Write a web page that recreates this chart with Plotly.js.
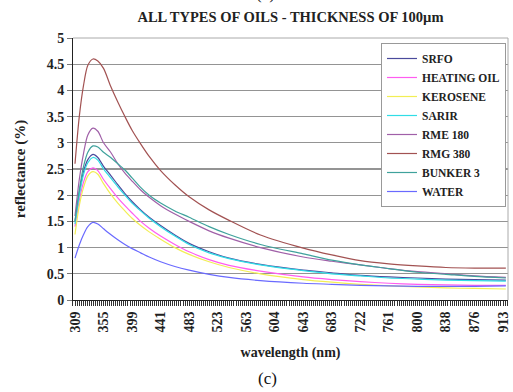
<!DOCTYPE html>
<html>
<head>
<meta charset="utf-8">
<script src="https://cdn.plot.ly/plotly-3.0.1.min.js"></script>
<style>html,body{margin:0;padding:0;background:#fff;}#chart{width:513px;height:392px;}</style>
</head>
<body>
<div id="chart"></div>
<script>
// Wavelength tick labels (nm), one per labelled category position
const wavelengthLabels = [309, 355, 399, 441, 483, 523, 563, 604, 643, 683, 722, 761, 800, 838, 876, 913];
// Sample positions along the category axis (in label-interval units)
const samplePos = [0, 0.15, 0.3, 0.45, 0.63, 0.8, 1.0, 1.25, 1.5, 1.75, 2.0, 2.3, 2.6, 3.0, 3.5, 4.0, 4.7, 5.4, 6.5, 8, 9, 10, 11, 12, 13, 14, 15.1];

const seriesNames = ["SRFO", "HEATING OIL", "KEROSENE", "SARIR", "RME 180", "RMG 380", "BUNKER 3", "WATER"];
const seriesColors = ["#4a4a9c", "#ff5cf0", "#f2ee55", "#30dde6", "#a060a8", "#a25252", "#3fa29c", "#6a6aff"];

const srfo    = [1.5, 2.05, 2.45, 2.68, 2.78, 2.72, 2.55, 2.38, 2.2, 2.03, 1.88, 1.72, 1.58, 1.42, 1.24, 1.08, 0.92, 0.8, 0.68, 0.57, 0.52, 0.47, 0.44, 0.42, 0.4, 0.39, 0.38];
const heating = [1.4, 1.9, 2.25, 2.45, 2.52, 2.47, 2.3, 2.12, 1.95, 1.8, 1.66, 1.5, 1.37, 1.22, 1.06, 0.92, 0.77, 0.66, 0.55, 0.44, 0.39, 0.35, 0.32, 0.3, 0.29, 0.28, 0.28];
const kerosene= [1.25, 1.8, 2.15, 2.37, 2.45, 2.4, 2.22, 2.02, 1.85, 1.7, 1.56, 1.42, 1.3, 1.16, 1.0, 0.87, 0.73, 0.62, 0.5, 0.39, 0.34, 0.3, 0.27, 0.25, 0.23, 0.22, 0.21];
const sarir   = [1.45, 2.0, 2.4, 2.62, 2.72, 2.67, 2.5, 2.33, 2.16, 2.0, 1.85, 1.7, 1.56, 1.4, 1.22, 1.06, 0.9, 0.79, 0.67, 0.56, 0.5, 0.46, 0.42, 0.4, 0.38, 0.37, 0.36];
const rme180  = [1.6, 2.3, 2.8, 3.15, 3.28, 3.22, 3.0, 2.82, 2.6, 2.42, 2.27, 2.1, 1.96, 1.8, 1.64, 1.5, 1.32, 1.18, 1.0, 0.82, 0.74, 0.67, 0.6, 0.54, 0.5, 0.46, 0.43];
const rmg380  = [2.6, 3.5, 4.1, 4.48, 4.6, 4.56, 4.42, 4.08, 3.78, 3.5, 3.24, 2.98, 2.74, 2.47, 2.2, 1.97, 1.72, 1.52, 1.24, 0.99, 0.86, 0.75, 0.69, 0.65, 0.62, 0.61, 0.61];
const bunker3 = [1.5, 2.1, 2.55, 2.82, 2.94, 2.92, 2.82, 2.72, 2.6, 2.48, 2.33, 2.15, 2.0, 1.85, 1.7, 1.58, 1.4, 1.25, 1.06, 0.88, 0.76, 0.67, 0.6, 0.53, 0.49, 0.45, 0.42];
const water   = [0.8, 1.05, 1.25, 1.4, 1.48, 1.45, 1.36, 1.25, 1.15, 1.06, 0.98, 0.9, 0.82, 0.73, 0.64, 0.57, 0.49, 0.43, 0.37, 0.32, 0.3, 0.28, 0.27, 0.26, 0.26, 0.26, 0.27];

const allSeries = [srfo, heating, kerosene, sarir, rme180, rmg380, bunker3, water];
const yTicks = [0, 0.5, 1, 1.5, 2, 2.5, 3, 3.5, 4, 4.5, 5];

const serif = "Liberation Serif";

const traces = allSeries.map((vals, i) => ({
  type: 'scatter', mode: 'lines',
  x: samplePos, y: vals, name: '<b>' + seriesNames[i] + '</b>',
  line: {color: seriesColors[i], width: 1.2, shape: 'spline', smoothing: 0.8}
}));

const layout = {
  width: 513, height: 392,
  margin: {l: 73, r: 5, t: 38, b: 92},
  paper_bgcolor: '#fff', plot_bgcolor: '#fff',
  font: {family: serif, color: '#222', size: 12},
  title: {text: '<b>ALL TYPES OF OILS - THICKNESS OF 100µm</b>', font: {family: serif, size: 14.5, color: '#222'},
          x: 0.5, xref: 'paper', y: 1 - 17/392, yanchor: 'middle'},
  xaxis: {
    range: [-0.07, 15.175], tickmode: 'array',
    tickvals: wavelengthLabels.map((_, i) => i), ticktext: wavelengthLabels.map(v => '<b>' + v + '</b>'),
    tickangle: -90, tickfont: {family: serif, size: 14, color: '#222'},
    ticks: 'outside', ticklen: 5, tickcolor: '#333', tickwidth: 1,
    minor: {dtick: 1/14, tick0: 0, ticks: 'outside', ticklen: 5, tickcolor: '#333', tickwidth: 1, showgrid: false},
    showgrid: false, zeroline: false,
    showline: true, linecolor: '#222', linewidth: 1, mirror: false,
    title: {text: '<b>wavelength (nm)</b>', font: {family: serif, size: 14, color: '#222'}, standoff: 15}
  },
  yaxis: {
    range: [0, 5], tickmode: 'array', tickvals: yTicks, ticktext: yTicks.map(v => '<b>' + v + '</b>'),
    tickfont: {family: serif, size: 14, color: '#222'},
    ticks: 'outside', ticklen: 5, tickcolor: '#777',
    showgrid: true, gridcolor: '#949494', gridwidth: 1.2, zeroline: false,
    showline: true, linecolor: '#222', linewidth: 1,
    title: {text: '<b>reflectance (%)</b>', font: {family: serif, size: 15, color: '#222'}, standoff: 17}
  },
  legend: {
    x: 1 - 2/435, xanchor: 'right', xref: 'paper', y: 1 - 5/262, yanchor: 'top',
    bgcolor: '#fff', bordercolor: '#999', borderwidth: 1,
    font: {family: serif, size: 11.5, color: '#222'},
    tracegroupgap: 0, itemwidth: 30
  },
  showlegend: true,
  shapes: [
    {type: 'line', xref: 'paper', yref: 'paper', x0: 0, x1: 1, y0: 1, y1: 1, line: {color: '#aaa', width: 1}},
    {type: 'line', xref: 'paper', yref: 'paper', x0: 1, x1: 1, y0: 0, y1: 1, line: {color: '#aaa', width: 1}}
  ],
  annotations: [
    {text: '(c)', xref: 'paper', yref: 'paper', x: (267 - 73) / 435, y: (300 - 378) / 262, showarrow: false,
     font: {family: serif, size: 17, color: '#111'}, xanchor: 'center', yanchor: 'middle'},
    {text: '(c)', xref: 'paper', yref: 'paper', x: (265 - 73) / 435, y: (300 + 6) / 262, showarrow: false,
     font: {family: serif, size: 17, color: '#111'}, xanchor: 'center', yanchor: 'middle'}
  ]
};

Plotly.newPlot('chart', traces, layout, {displayModeBar: false, staticPlot: true});
</script>
</body>
</html>
